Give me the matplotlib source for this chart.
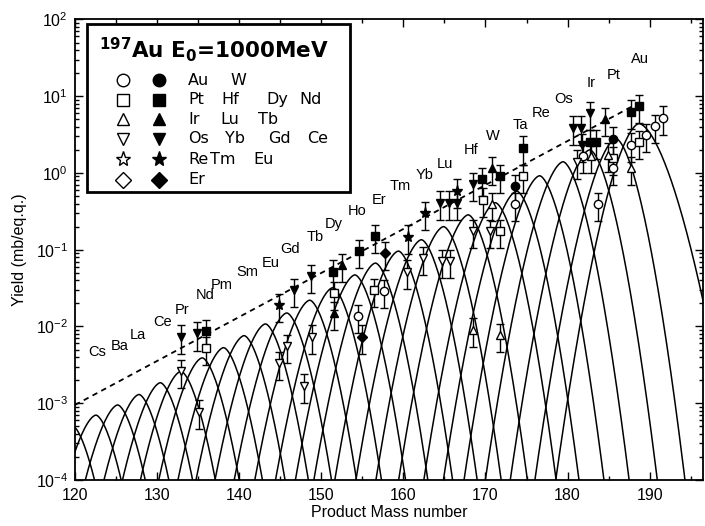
import numpy as np
import matplotlib.pyplot as plt
from matplotlib.patches import Rectangle
from matplotlib.ticker import MultipleLocator, LogLocator, NullFormatter

plt.rcParams['font.family'] = ['Liberation Sans', 'DejaVu Sans']
plt.rcParams['mathtext.fontset'] = 'custom'
plt.rcParams['mathtext.rm'] = 'Liberation Sans'
plt.rcParams['mathtext.bf'] = 'DejaVu Sans:bold'

# isotopic distribution curves: peak mass, peak yield, left/right widths
peak_A = [119.6, 122.55, 125.2, 127.8, 130.4, 132.9, 135.5, 138.1, 140.6, 143.2,
          145.8, 148.6, 151.4, 154.1, 156.6, 159.4, 162.2, 164.9, 167.9, 171.2,
          173.8, 176.6, 179.45, 182.7, 185.9, 188.7]
peak_Y = [5.2e-4, 7.0e-4, 9.5e-4, 1.3e-3, 1.85e-3, 2.6e-3, 3.9e-3, 5.3e-3, 7.6e-3, 1.08e-2,
          1.5e-2, 2.2e-2, 3.2e-2, 4.7e-2, 6.7e-2, 9.6e-2, 0.135, 0.2, 0.285, 0.41,
          0.58, 0.92, 1.4, 2.0, 2.8, 4.4]
width_L = [4.0] * 26
width_R = [3.4] * 25 + [4.7]
SHAPE_P = 1.65

# dashed trend line (end points)
dash_A = [120, 188]
dash_Y = [9.5e-4, 7.5]

# element labels
label_text = ["Cs", "Ba", "La", "Ce", "Pr", "Nd", "Pm", "Sm", "Eu", "Gd", "Tb", "Dy", "Ho",
              "Er", "Tm", "Yb", "Lu", "Hf", "W", "Ta", "Re", "Os", "Ir", "Pt", "Au"]
label_A = [122.75, 125.4, 127.6, 130.7, 133.1, 135.8, 137.9, 141.0, 143.8, 146.2, 149.3, 151.5,
           154.4, 157.0, 159.6, 162.6, 165.1, 168.3, 170.95, 174.2, 176.8, 179.5, 182.9, 185.6, 188.8]
label_Y = [4.7e-3, 5.5e-3, 7.8e-3, 1.15e-2, 1.66e-2, 2.6e-2, 3.5e-2, 5.2e-2, 6.8e-2, 0.102,
           0.148, 0.214, 0.316, 0.447, 0.676, 0.955, 1.32, 2.0, 3.0, 4.27, 6.0, 9.1, 14.8, 19.0, 31.0]

# measured yields, by symbol
open_circle_A = [154.5, 157.6, 173.6, 181.9, 183.7, 185.5, 187.7, 189.6, 190.6, 191.6]
open_circle_Y = [0.0135, 0.029, 0.39, 1.66, 0.39, 1.17, 2.34, 3.1, 4.1, 5.25]
open_square_A = [135.9, 151.5, 156.4, 169.7, 171.8, 174.6, 185.5, 188.7]
open_square_Y = [5.2e-3, 0.0275, 0.030, 0.45, 0.174, 0.92, 1.58, 2.5]
open_tri_up_A = [168.5, 171.8, 170.75, 182.9, 184.9, 187.7]
open_tri_up_Y = [9.1e-3, 7.8e-3, 0.39, 1.66, 1.74, 1.16]
open_tri_dn_A = [132.9, 135.1, 144.8, 145.85, 147.9, 148.9, 160.4, 162.4, 164.7, 165.7,
                 168.5, 170.55, 181.1]
open_tri_dn_Y = [2.6e-3, 7.8e-4, 3.3e-3, 5.5e-3, 1.7e-3, 7.4e-3, 0.052, 0.078, 0.071, 0.071,
                 0.174, 0.174, 1.41]
fill_circle_A = [173.6, 185.5]
fill_circle_Y = [0.68, 2.8]
fill_square_A = [135.9, 151.4, 154.6, 156.5, 169.6, 171.75, 174.6, 182.7, 183.5, 187.75, 188.7]
fill_square_Y = [8.6e-3, 0.052, 0.095, 0.151, 0.83, 0.92, 2.14, 2.57, 2.57, 6.3, 7.4]
fill_tri_up_A = [151.5, 152.5, 170.75, 184.6]
fill_tri_up_Y = [0.0148, 0.063, 1.16, 5.0]
fill_tri_dn_A = [132.9, 134.9, 146.7, 148.7, 164.5, 165.5, 166.5, 168.5, 180.7, 181.6, 181.7, 182.7]
fill_tri_dn_Y = [7.4e-3, 8.1e-3, 0.030, 0.045, 0.41, 0.41, 0.41, 0.71, 3.9, 3.9, 2.3, 6.0]
fill_star_A = [144.8, 160.6, 162.65, 166.5]
fill_star_Y = [0.019, 0.148, 0.30, 0.59]
fill_diamond_A = [155.0, 157.7]
fill_diamond_Y = [7.4e-3, 0.091]
REL_ERR = 0.4

fig = plt.figure(figsize=(7.05, 5.26), dpi=100)
ax = fig.add_axes([0.1064, 0.0875, 0.8908, 0.8755])

# curves
A = np.linspace(116, 198, 800)
for pa, py, wl, wr in zip(peak_A, peak_Y, width_L, width_R):
    w = np.where(A < pa, wl, wr)
    logy = np.log10(py) - (np.abs(A - pa) / w) ** SHAPE_P
    ax.plot(A, 10 ** logy, color='black', lw=1.1)

ax.plot(dash_A, dash_Y, color='black', lw=1.3, ls=(0, (3, 2.5)))

groups = [
    (open_circle_A, open_circle_Y, 'o', 'white'),
    (open_square_A, open_square_Y, 's', 'white'),
    (open_tri_up_A, open_tri_up_Y, '^', 'white'),
    (open_tri_dn_A, open_tri_dn_Y, 'v', 'white'),
    (fill_circle_A, fill_circle_Y, 'o', 'black'),
    (fill_square_A, fill_square_Y, 's', 'black'),
    (fill_tri_up_A, fill_tri_up_Y, '^', 'black'),
    (fill_tri_dn_A, fill_tri_dn_Y, 'v', 'black'),
    (fill_star_A, fill_star_Y, '*', 'black'),
    (fill_diamond_A, fill_diamond_Y, 'D', 'black'),
]
for gx, gy, mk, fc in groups:
    gy = np.array(gy)
    ms = 8 if mk == '*' else (5 if mk == 'D' else 6)
    ax.errorbar(gx, gy, yerr=REL_ERR * gy, fmt=mk, mfc=fc, mec='black', ms=ms,
                ecolor='black', elinewidth=1.0, capsize=3, capthick=1.0, mew=1.0, zorder=3)

for t, x, y in zip(label_text, label_A, label_Y):
    ax.text(x, y, t, fontsize=10.5, ha='center', va='center')

ax.set_yscale('log')
ax.set_xlim(120, 196.5)
ax.set_ylim(1e-4, 1e2)
ax.xaxis.set_major_locator(MultipleLocator(10))
ax.xaxis.set_minor_locator(MultipleLocator(5))
ax.yaxis.set_major_locator(LogLocator(base=10, numticks=10))
ax.yaxis.set_minor_locator(LogLocator(base=10, subs=np.arange(2, 10), numticks=20))
ax.yaxis.set_minor_formatter(NullFormatter())
ax.tick_params(which='both', direction='in', top=True, right=True, labelsize=11.5, width=1.0)
ax.tick_params(which='major', length=6)
ax.tick_params(which='minor', length=3)
ax.tick_params(axis='x', pad=6)
ax.tick_params(axis='y', pad=5)
for s in ax.spines.values():
    s.set_linewidth(1.3)
ax.set_xlabel("Product Mass number", fontsize=11.5, labelpad=1)
ax.set_ylabel("Yield (mb/eq.q.)", fontsize=11.5, labelpad=6)

# legend box
ax.add_patch(Rectangle((0.019, 0.625), 0.419, 0.365, transform=ax.transAxes,
                       fill=True, facecolor='white', edgecolor='black', lw=2.0, zorder=5))
ax.text(0.038, 0.917, r"$\mathbf{^{197}}$Au E$\mathbf{_0}$=1000MeV", transform=ax.transAxes,
        fontsize=15.5, fontweight='bold', family='DejaVu Sans', va='baseline', ha='left',
        zorder=6)
leg_marks = ['o', 's', '^', 'v', '*', 'D']
leg_rows = [["Au", "W"], ["Pt", "Hf", "Dy", "Nd"], ["Ir", "Lu", "Tb"],
            ["Os", "Yb", "Gd", "Ce"], ["Re", "Tm", "Eu"], ["Er"]]
row_y = [0.868, 0.826, 0.783, 0.741, 0.696, 0.652]
col_x = [[0.180, 0.247], [0.180, 0.2335, 0.305, 0.358], [0.180, 0.231, 0.292],
         [0.180, 0.239, 0.308, 0.369], [0.180, 0.215, 0.284], [0.180]]
for mk, names, yy, xs in zip(leg_marks, leg_rows, row_y, col_x):
    ms = 11 if mk == '*' else (8 if mk == 'D' else 9)
    ax.plot([0.0764], [yy], mk, mfc='white', mec='black', ms=ms, mew=1.0,
            transform=ax.transAxes, zorder=6)
    ax.plot([0.134], [yy], mk, mfc='black', mec='black', ms=ms, mew=1.0,
            transform=ax.transAxes, zorder=6)
    for nm, xx in zip(names, xs):
        ax.text(xx, yy, nm, transform=ax.transAxes, fontsize=11.5, va='center',
                ha='left', zorder=6, family='DejaVu Sans')

fig.savefig("out.png", dpi=100)
